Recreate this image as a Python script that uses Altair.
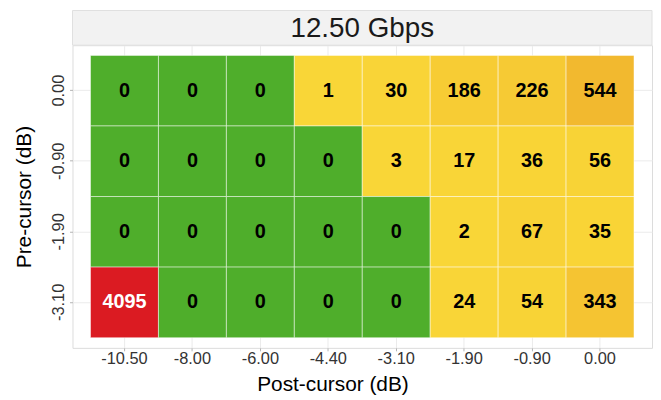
import altair as alt
import pandas as pd

post_labels = ["-10.50", "-8.00", "-6.00", "-4.40", "-3.10", "-1.90", "-0.90", "0.00"]
pre_labels = ["0.00", "-0.90", "-1.90", "-3.10"]
row_pre_000 = [0, 0, 0, 1, 30, 186, 226, 544]
row_pre_090 = [0, 0, 0, 0, 3, 17, 36, 56]
row_pre_190 = [0, 0, 0, 0, 0, 2, 67, 35]
row_pre_310 = [4095, 0, 0, 0, 0, 24, 54, 343]
panel_title = ["12.50 Gbps"]

rows = [row_pre_000, row_pre_090, row_pre_190, row_pre_310]
records = []
for pre, vals in zip(pre_labels, rows):
    for post, v in zip(post_labels, vals):
        records.append({"post": post, "pre": pre, "value": v})
df = pd.DataFrame(records)
strip_df = pd.DataFrame({"t": panel_title})

W, H = 584, 305
STRIP = 35
FONT = "Liberation Sans"

x_enc = alt.X(
    "post:N", sort=post_labels, title="Post-cursor (dB)",
    scale=alt.Scale(paddingInner=0, paddingOuter=0.265),
    axis=alt.Axis(labelAngle=0, bandPosition=0.5, grid=True, zindex=0,
                  labelPadding=0, titlePadding=6, titleX=262, titleAlign="center"),
)
y_enc = alt.Y(
    "pre:N", sort=pre_labels, title="Pre-cursor (dB)",
    scale=alt.Scale(paddingInner=0, paddingOuter=0.144),
    axis=alt.Axis(labelAngle=270, labelAlign="center", labelBaseline="bottom",
                  bandPosition=0.5, grid=True, zindex=0, labelPadding=3, titlePadding=16),
)

color_scale = alt.Scale(
    type="linear",
    domain=[0, 0.5, 1, 544, 4000, 4095],
    range=["#4fae2b", "#4fae2b", "#f9d637", "#f2b92f", "#f2b92f", "#db1b22"],
    interpolate="rgb",
)

tiles = alt.Chart(df).mark_rect(stroke="white", strokeWidth=0.7, strokeOpacity=0.7).encode(
    x=x_enc, y=y_enc,
    fill=alt.Fill("value:Q", scale=color_scale, legend=None),
)

labels = alt.Chart(df).mark_text(fontWeight="bold", fontSize=20, font=FONT).encode(
    x=alt.X("post:N", sort=post_labels),
    y=alt.Y("pre:N", sort=pre_labels),
    text=alt.Text("value:Q", format="d"),
    color=alt.condition(alt.datum.value >= 4000, alt.value("white"), alt.value("black")),
)

strip = alt.Chart(strip_df).mark_rect(fill="#f2f2f2", stroke="#e0e0e0", strokeWidth=1).encode(
    x=alt.value(0), x2=alt.value(W), y=alt.value(-STRIP), y2=alt.value(0),
)
strip_text = alt.Chart(strip_df).mark_text(fontSize=28, font=FONT, color="#1a1a1a", baseline="middle").encode(
    text="t:N", x=alt.value(W / 2), y=alt.value(-STRIP / 2 + 1),
)

chart = alt.layer(strip, tiles, labels, strip_text).properties(
    width=W, height=H,
    padding={"left": 6, "top": 0, "right": 0, "bottom": 0},
).configure_view(
    stroke="#dcdcdc", strokeWidth=1,
).configure_axis(
    domain=False,
    gridColor="#ebebeb", gridWidth=1,
    tickColor="#b3b3b3", tickSize=3,
    labelColor="#333333", labelFont=FONT, labelFontSize=16.5,
    titleFont=FONT, titleFontSize=21, titleFontWeight="normal", titleColor="#000000",
)

chart.save("out.html", embed_options={"renderer": "svg", "actions": False})
